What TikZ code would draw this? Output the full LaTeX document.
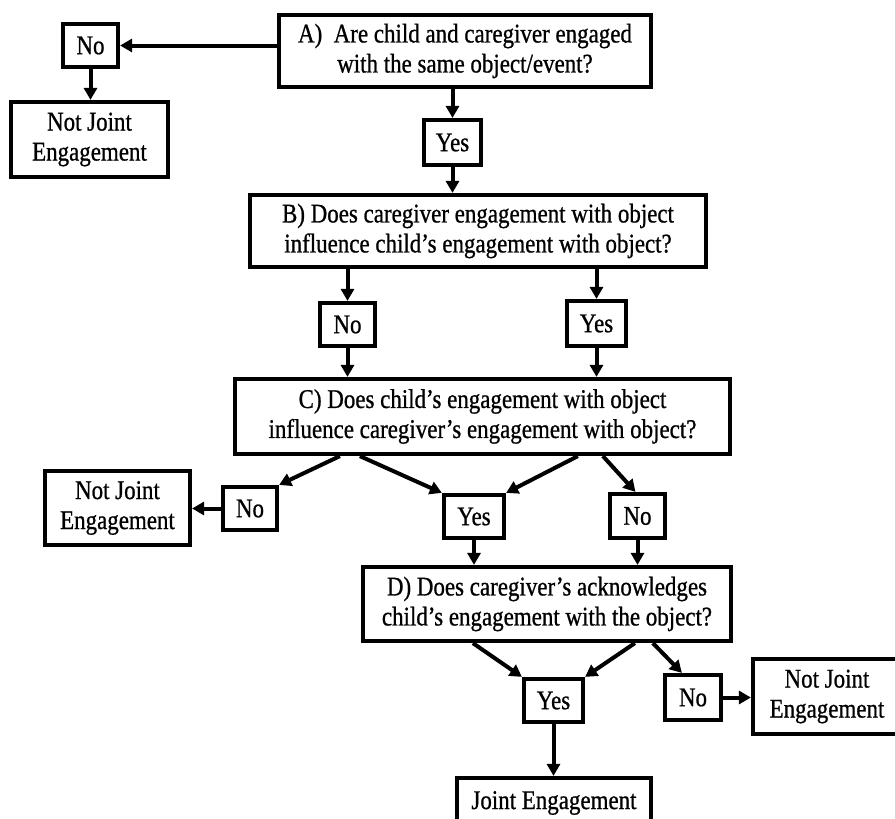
\documentclass[tikz,border=0pt]{standalone}
\usepackage{fontspec}
\setmainfont{Liberation Serif}[FakeStretch=0.85,FakeBold=0.8]
\usetikzlibrary{arrows.meta,calc}
\begin{document}
\begin{tikzpicture}[x=1pt,y=-1pt,
  box/.style={draw, line width=4.2pt, inner sep=0pt, align=center,
    font=\fontsize{27}{30}\selectfont},
  arr/.style={line width=4pt, -{Triangle[length=12pt,width=13pt]}}]
\useasboundingbox (0,0) rectangle (895,819);
\clip (0,0) rectangle (895,819);
% boxes
\node[box, minimum width=372pt, minimum height=72pt] (A) at (465,51)
  {A)~~Are child and caregiver engaged\\with the same object/event?};
\node[box, minimum width=55pt, minimum height=43pt] (NoA) at (90.5,45.5) {No};
\node[box, minimum width=157pt, minimum height=75pt] (NJE1) at (89.5,139.5) {Not Joint\\Engagement};
\node[box, minimum width=57pt, minimum height=45pt] (YesA) at (452.5,142.5) {Yes};
\node[box, minimum width=456pt, minimum height=72pt] (B) at (478,231)
  {B) Does caregiver engagement with object\\influence child’s engagement with object?};
\node[box, minimum width=55pt, minimum height=43pt] (NoB) at (347.5,324.5) {No};
\node[box, minimum width=59pt, minimum height=45pt] (YesB) at (596.5,323.5) {Yes};
\node[box, minimum width=495pt, minimum height=75pt] (C) at (482.5,416.5)
  {C) Does child’s engagement with object\\influence caregiver’s engagement with object?};
\node[box, minimum width=54pt, minimum height=43pt] (NoC) at (250,508.5) {No};
\node[box, minimum width=145pt, minimum height=74pt] (NJE2) at (117.5,508) {Not Joint\\Engagement};
\node[box, minimum width=60pt, minimum height=43pt] (YesC) at (474,516.5) {Yes};
\node[box, minimum width=55pt, minimum height=44pt] (NoC2) at (637.5,516) {No};
\node[box, minimum width=368pt, minimum height=74pt] (D) at (547,604)
  {D) Does caregiver’s acknowledges\\child’s engagement with the object?};
\node[box, minimum width=59pt, minimum height=43pt] (YesD) at (553.5,700.5) {Yes};
\node[box, minimum width=56pt, minimum height=45pt] (NoD) at (693,697.5) {No};
\node[box, minimum width=148pt, minimum height=75pt] (NJE3) at (827,696.5) {Not Joint\\Engagement};
\node[box, minimum width=194pt, minimum height=50pt] (JE) at (554,803) {Joint Engagement};
% connectors
\draw[arr] (A.west |- NoA.east) -- (NoA.east);
\draw[arr] (NoA.south) -- (NoA.south |- NJE1.north);
\draw[arr] (A.south -| YesA.north) -- (YesA.north);
\draw[arr] (YesA.south) -- (YesA.south |- B.north);
\draw[arr] (B.south -| NoB.north) -- (NoB.north);
\draw[arr] (B.south -| YesB.north) -- (YesB.north);
\draw[arr] (NoB.south) -- (NoB.south |- C.north);
\draw[arr] (YesB.south) -- (YesB.south |- C.north);
\draw[arr] ($(C.south west)+(107,0)$) -- (NoC.north east);
\draw[arr] ($(C.south west)+(127,0)$) -- (YesC.north west);
\draw[arr] ($(C.south west)+(345,0)$) -- (YesC.north east);
\draw[arr] ($(C.south west)+(370,0)$) -- ($(NoC2.north)+(-2,0)$);
\draw[arr] (NoC.west) -- (NoC.west -| NJE2.east);
\draw[arr] (YesC.south) -- (YesC.south |- D.north);
\draw[arr] (NoC2.south) -- (NoC2.south |- D.north);
\draw[arr] ($(D.south west)+(112,0)$) -- (YesD.north west);
\draw[arr] ($(D.south west)+(274,0)$) -- (YesD.north east);
\draw[arr] ($(D.south west)+(292,0)$) -- ($(NoD.north west)+(19,0)$);
\draw[arr] (NoD.east) -- (NoD.east -| NJE3.west);
\draw[arr] (YesD.south) -- (YesD.south |- JE.north);
\end{tikzpicture}
\end{document}
